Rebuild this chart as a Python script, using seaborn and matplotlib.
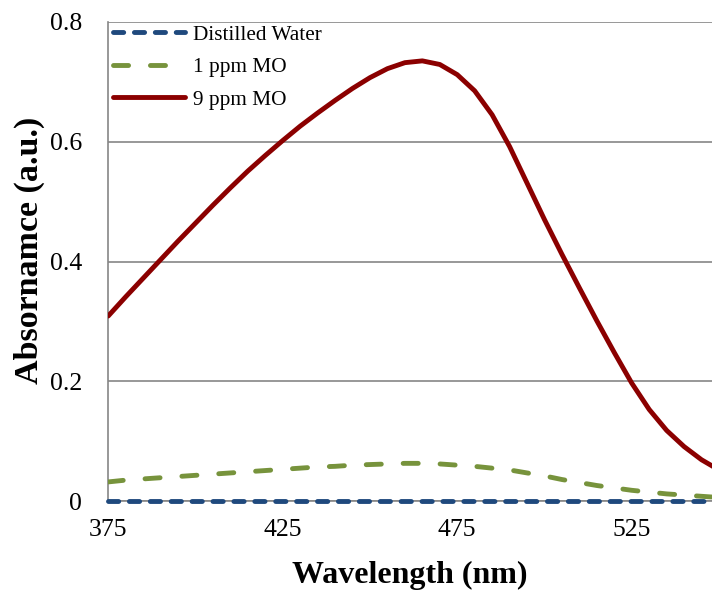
import numpy as np
import pandas as pd
import matplotlib
matplotlib.use("Agg")
import matplotlib.pyplot as plt
import seaborn as sns

wavelength = [375, 380, 385, 390, 395, 400, 405, 410, 415, 420, 425, 430, 435, 440, 445,
              450, 455, 460, 465, 470, 475, 480, 485, 490, 495, 500, 505, 510, 515, 520,
              525, 530, 535, 540, 545, 550]
distilled_water = [0.0] * len(wavelength)
mo_1ppm = [0.032, 0.035, 0.037, 0.039, 0.041, 0.043, 0.045, 0.047, 0.049, 0.051, 0.053,
           0.055, 0.057, 0.058, 0.060, 0.061, 0.062, 0.063, 0.063, 0.062, 0.060, 0.058,
           0.055, 0.052, 0.047, 0.042, 0.036, 0.031, 0.026, 0.022, 0.018, 0.015, 0.012,
           0.010, 0.008, 0.006]
mo_9ppm = [0.309, 0.341, 0.372, 0.403, 0.434, 0.464, 0.494, 0.523, 0.551, 0.577, 0.602,
           0.626, 0.648, 0.669, 0.689, 0.707, 0.722, 0.732, 0.735, 0.729, 0.712, 0.685,
           0.645, 0.592, 0.531, 0.470, 0.412, 0.356, 0.301, 0.248, 0.197, 0.153, 0.118,
           0.091, 0.069, 0.052]

series_names = ["Distilled Water", "1 ppm MO", "9 ppm MO"]
colors = ["#1F497D", "#77933C", "#8B0000"]

sns.set_theme(style="white")
plt.rcParams["font.family"] = ["Liberation Serif", "DejaVu Serif"]
plt.rcParams["text.color"] = "black"
plt.rcParams["xtick.color"] = "black"
plt.rcParams["ytick.color"] = "black"
plt.rcParams["axes.labelcolor"] = "black"

fig = plt.figure(figsize=(7.12, 5.93), dpi=100)
ax = fig.add_axes([0.152, 0.155, 0.848, 0.808])

df = pd.DataFrame({"Wavelength": wavelength, series_names[0]: distilled_water,
                   series_names[1]: mo_1ppm, series_names[2]: mo_9ppm})

dash_patterns = [(2.1, 2.2), (3.1, 4.5), None]
lw = 3.5
for name, col, dp, z in zip(series_names, colors, dash_patterns, [5, 4, 3]):
    sns.lineplot(data=df, x="Wavelength", y=name, ax=ax, color=col, lw=lw,
                 label=name, zorder=z)
    ln = ax.lines[-1]
    if dp is not None:
        ln.set_dashes(dp)
        ln.set_dash_capstyle("round")
    else:
        ln.set_solid_capstyle("round")
        ln.set_solid_joinstyle("round")
    if name == "Distilled Water":
        ln.set_clip_on(False)

ax.set_xlim(375, 548)
ax.set_ylim(0, 0.8)
ax.set_xticks([375, 425, 475, 525])
ax.set_yticks([0, 0.2, 0.4, 0.6, 0.8])
ax.set_yticklabels(["0", "0.2", "0.4", "0.6", "0.8"])
ax.yaxis.grid(True, color="#868686", lw=1.2)
ax.set_axisbelow(True)
for s in ["top", "right"]:
    ax.spines[s].set_visible(False)
for s in ["left", "bottom"]:
    ax.spines[s].set_color("#868686")
    ax.spines[s].set_linewidth(1.2)
    ax.spines[s].set_zorder(2)
ax.tick_params(axis="x", direction="inout", length=10, width=1.2, color="#868686",
               labelsize=18.5, pad=8)
ax.tick_params(axis="y", length=0, labelsize=18.5, pad=19)
ax.set_xlabel("Wavelength (nm)", fontsize=23, fontweight="bold", labelpad=14)
ax.set_ylabel("Absornamce (a.u.)", fontsize=24.5, fontweight="bold", labelpad=3.5)
ax.yaxis.label.set_y(0.524)

leg = ax.legend(loc="upper left", frameon=False, fontsize=15.3, handlelength=3.4,
                borderaxespad=0.0, labelspacing=0.6, handletextpad=0.35,
                bbox_to_anchor=(-0.006, 1.012))
for h in leg.get_lines():
    h.set_linewidth(lw)

fig.savefig("out.png", dpi=100)
